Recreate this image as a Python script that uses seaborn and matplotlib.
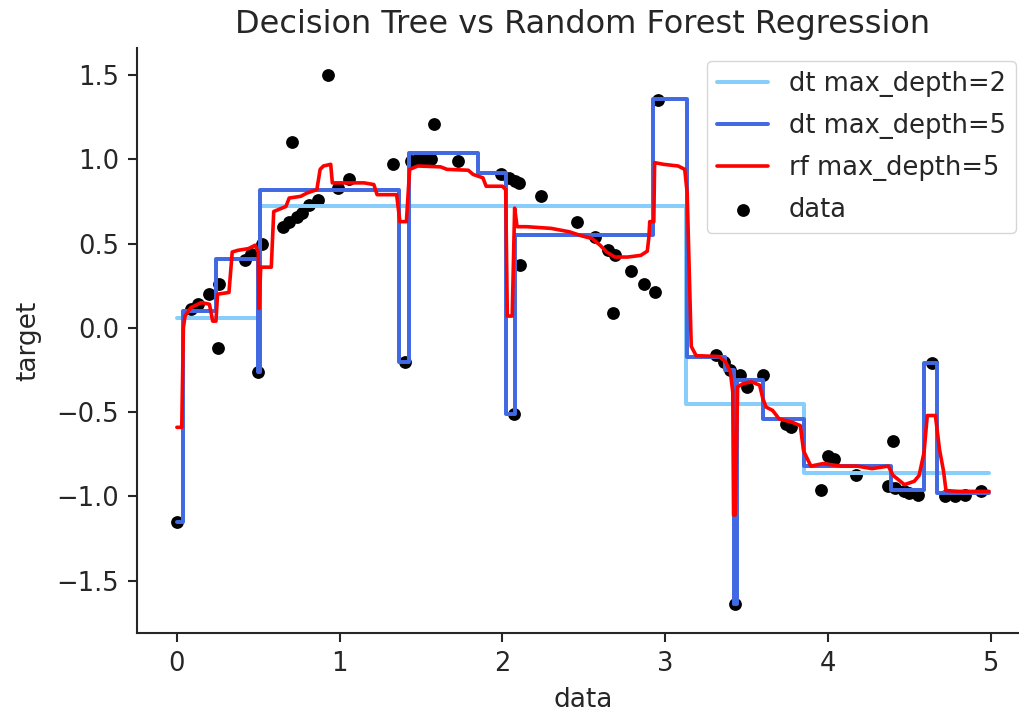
import numpy as np
import pandas as pd
import seaborn as sns
import matplotlib
matplotlib.use("Agg")
import matplotlib.pyplot as plt

# Observed samples (x, target)
data_x = [0.00, 0.086, 0.13, 0.20, 0.25, 0.26, 0.42, 0.455, 0.50, 0.52,
          0.65, 0.69, 0.71, 0.74, 0.77, 0.81, 0.87, 0.93, 0.99, 1.06,
          1.33, 1.40, 1.44, 1.48, 1.52, 1.56, 1.58, 1.73, 1.99, 2.04,
          2.07, 2.08, 2.10, 2.11, 2.24, 2.46, 2.57, 2.65, 2.68, 2.69,
          2.79, 2.87, 2.94, 2.955, 3.31, 3.36, 3.40, 3.43, 3.46, 3.50,
          3.60, 3.74, 3.77, 3.96, 4.00, 4.04, 4.17, 4.37, 4.40, 4.41,
          4.47, 4.50, 4.55, 4.64, 4.72, 4.78, 4.84, 4.94]
data_y = [-1.15, 0.11, 0.14, 0.20, -0.12, 0.26, 0.40, 0.44, -0.26, 0.50,
          0.60, 0.63, 1.10, 0.66, 0.68, 0.73, 0.76, 1.50, 0.83, 0.88,
          0.97, -0.20, 0.99, 1.00, 1.00, 1.00, 1.21, 0.99, 0.91, 0.89,
          -0.51, 0.87, 0.86, 0.37, 0.78, 0.63, 0.54, 0.46, 0.09, 0.43,
          0.34, 0.26, 0.21, 1.35, -0.16, -0.20, -0.25, -1.64, -0.28, -0.35,
          -0.28, -0.57, -0.59, -0.96, -0.76, -0.78, -0.87, -0.94, -0.67, -0.95,
          -0.97, -0.98, -0.99, -0.21, -1.00, -1.00, -0.99, -0.97]

# Decision tree, max_depth=2: leaf start positions and leaf values
dt2_x = [0.00, 0.51, 3.13, 3.85, 4.99]
dt2_y = [0.06, 0.72, -0.45, -0.86, -0.86]

# Decision tree, max_depth=5: leaf start positions and leaf values
dt5_x = [0.00, 0.035, 0.24, 0.50, 0.51, 1.365, 1.425, 1.85, 2.025, 2.075,
         2.925, 3.135, 3.37, 3.42, 3.44, 3.60, 3.85, 4.385, 4.59, 4.67, 4.99]
dt5_y = [-1.15, 0.10, 0.41, -0.26, 0.82, -0.20, 1.04, 0.92, -0.51, 0.55,
         1.355, -0.17, -0.25, -1.64, -0.31, -0.54, -0.82, -0.96, -0.21, -0.98, -0.98]

# Random forest, max_depth=5: prediction path
rf_x = [0.00, 0.03, 0.04, 0.05, 0.086, 0.15, 0.20, 0.22, 0.24, 0.25,
        0.32, 0.34, 0.375, 0.44, 0.48, 0.50, 0.505, 0.515, 0.58, 0.595,
        0.62, 0.67, 0.69, 0.76, 0.80, 0.86, 0.88, 0.90, 0.945, 0.955,
        1.00, 1.15, 1.21, 1.23, 1.35, 1.37, 1.41, 1.43, 1.48, 1.62,
        1.66, 1.79, 1.82, 1.88, 1.90, 2.00, 2.02, 2.03, 2.06, 2.075,
        2.09, 2.15, 2.30, 2.41, 2.49, 2.55, 2.60, 2.64, 2.69, 2.77,
        2.85, 2.89, 2.90, 2.905, 2.93, 2.935, 2.99, 3.08, 3.12, 3.135,
        3.16, 3.19, 3.33, 3.37, 3.40, 3.415, 3.42, 3.43, 3.445, 3.48,
        3.53, 3.58, 3.60, 3.62, 3.66, 3.70, 3.78, 3.83, 3.85, 3.895,
        3.97, 4.08, 4.18, 4.27, 4.37, 4.40, 4.47, 4.53, 4.56, 4.59,
        4.61, 4.66, 4.685, 4.71, 4.725, 4.80, 4.99]
rf_y = [-0.59, -0.59, 0.00, 0.07, 0.12, 0.15, 0.14, 0.04, 0.04, 0.20,
        0.21, 0.45, 0.46, 0.47, 0.49, 0.45, 0.115, 0.36, 0.36, 0.69,
        0.70, 0.72, 0.77, 0.78, 0.80, 0.82, 0.94, 0.96, 0.97, 0.86,
        0.86, 0.86, 0.85, 0.79, 0.79, 0.63, 0.63, 0.94, 0.96, 0.955,
        0.94, 0.935, 0.91, 0.89, 0.84, 0.84, 0.82, 0.07, 0.07, 0.71,
        0.60, 0.60, 0.59, 0.57, 0.545, 0.53, 0.49, 0.45, 0.42, 0.42,
        0.43, 0.455, 0.54, 0.63, 0.63, 0.98, 0.97, 0.96, 0.94, 0.80,
        -0.11, -0.165, -0.17, -0.20, -0.26, -0.38, -1.11, -1.11, -0.35, -0.33,
        -0.32, -0.34, -0.42, -0.47, -0.49, -0.54, -0.56, -0.58, -0.73, -0.82,
        -0.805, -0.82, -0.82, -0.835, -0.82, -0.875, -0.93, -0.91, -0.875, -0.74,
        -0.52, -0.52, -0.72, -0.85, -0.965, -0.97, -0.97]

sns.set_theme(style="ticks", context="notebook")
plt.rcParams.update({
    "font.family": ["DejaVu Sans"],
    "xtick.labelsize": 18.5,
    "ytick.labelsize": 18.5,
    "axes.labelsize": 19,
    "axes.titlesize": 23,
    "legend.fontsize": 18.5,
    "legend.labelspacing": 0.62,
    "xtick.major.size": 6.5,
    "ytick.major.size": 6.5,
    "xtick.major.pad": 6.5,
    "ytick.major.pad": 6.5,
    "xtick.major.width": 1.5,
    "ytick.major.width": 1.5,
    "axes.linewidth": 1.5,
    "axes.labelpad": 7.5,
})

fig = plt.figure(figsize=(10.19, 7.15), dpi=100)
ax = fig.add_axes([137 / 1019, 82 / 715, 892 / 1019, 585 / 715])

sns.scatterplot(x=data_x, y=data_y, color="black", s=85, linewidth=0,
                ax=ax, zorder=2, label="data")
sns.lineplot(x=dt2_x, y=dt2_y, estimator=None, sort=False, drawstyle="steps-post",
             color="lightskyblue", linewidth=2.85, ax=ax, label="dt max_depth=2", zorder=3)
sns.lineplot(x=dt5_x, y=dt5_y, estimator=None, sort=False, drawstyle="steps-post",
             color="royalblue", linewidth=2.85, ax=ax, label="dt max_depth=5", zorder=4)
sns.lineplot(x=rf_x, y=rf_y, estimator=None, sort=False,
             color="red", linewidth=2.6, ax=ax, label="rf max_depth=5", zorder=5)

ax.set_xlim(-0.245, 5.235)
ax.set_ylim(-1.81, 1.66)
ax.set_xticks([0, 1, 2, 3, 4, 5])
ax.set_yticks([-1.5, -1.0, -0.5, 0.0, 0.5, 1.0, 1.5])
ax.set_xlabel("data")
ax.set_ylabel("target", labelpad=11)
ax.set_title("Decision Tree vs Random Forest Regression", pad=11)

handles, labels = ax.get_legend_handles_labels()
order = [labels.index(l) for l in ["dt max_depth=2", "dt max_depth=5", "rf max_depth=5", "data"]]
ax.legend([handles[i] for i in order], [labels[i] for i in order],
          loc="upper right", frameon=True)
sns.despine(ax=ax)

fig.savefig("out.png", dpi=100)
